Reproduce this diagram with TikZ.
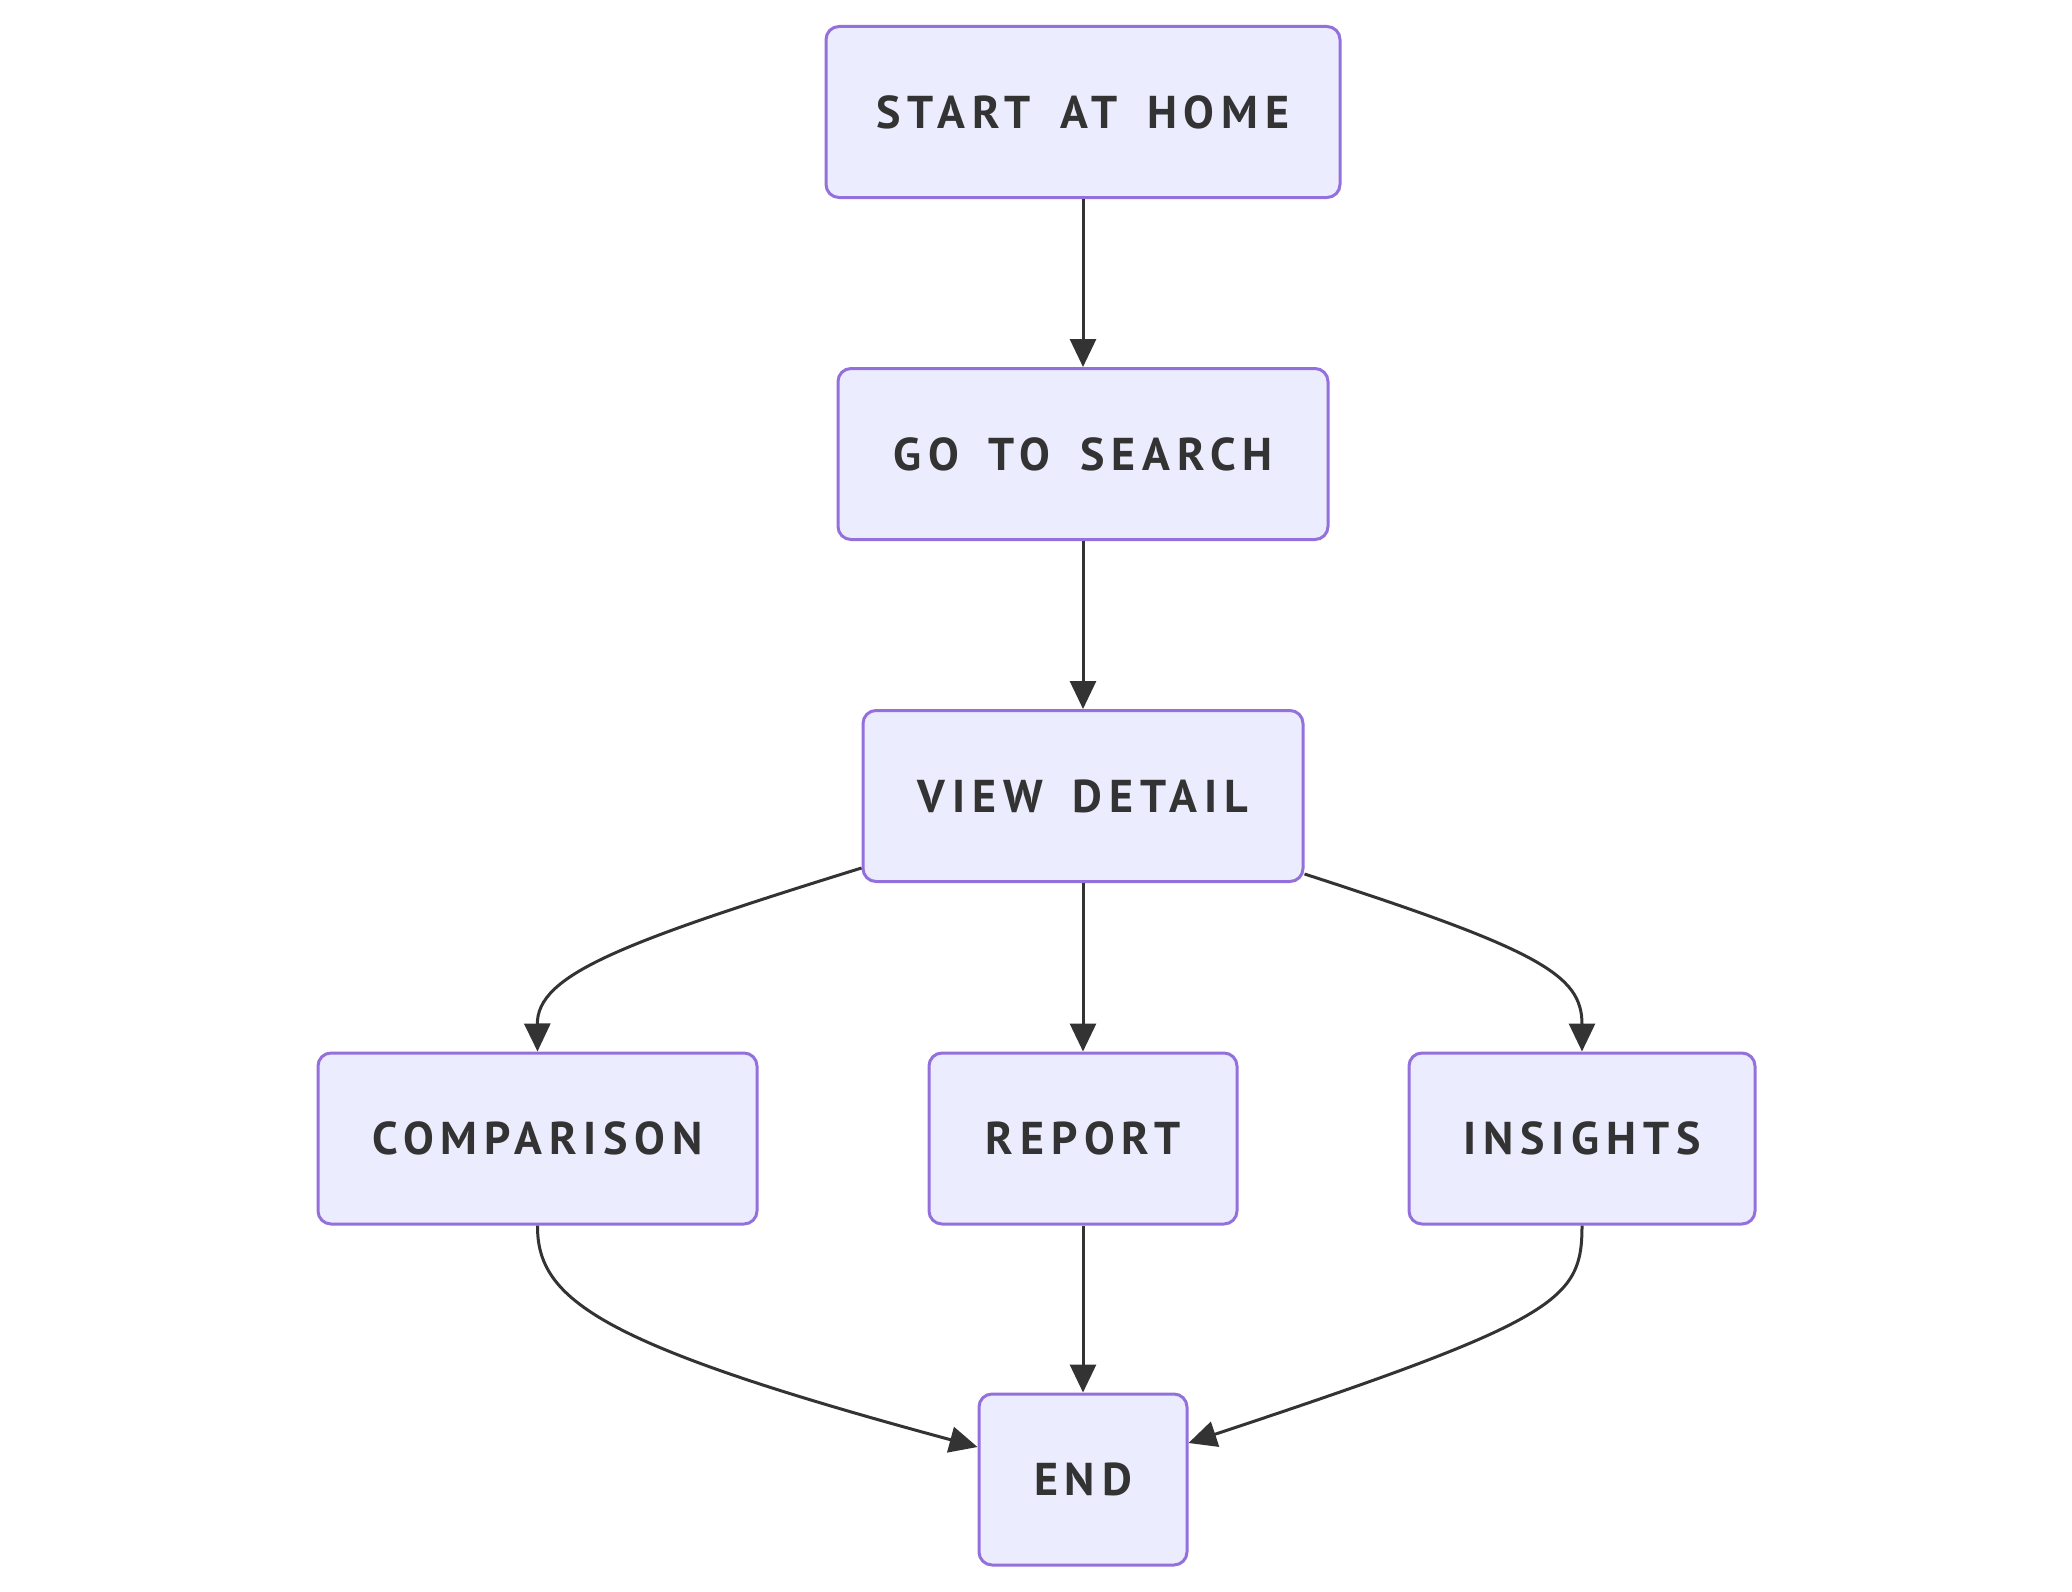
\documentclass[tikz,border=0pt]{standalone}
\usepackage{fontspec}
\setmainfont{PT Sans}[LetterSpace=15,WordSpace=1.6]
\usetikzlibrary{arrows.meta}
\definecolor{nodefill}{HTML}{ECECFF}
\definecolor{nodeline}{HTML}{9370DB}
\definecolor{ink}{HTML}{333333}
\begin{document}
\begin{tikzpicture}[x=1pt,y=-1pt,
  box/.style={draw=nodeline,fill=nodefill,line width=3pt,rounded corners=13pt,
    minimum height=171pt,inner sep=0pt,text=ink,
    font=\fontsize{46}{56}\selectfont\bfseries},
  flow/.style={draw=ink,line width=3pt,-{Triangle[length=28pt,width=26pt]}}]
\useasboundingbox (0,0) rectangle (2072,1592);
\node[box,minimum width=514pt] (home) at (1083,112) {START AT HOME};
\node[box,minimum width=490pt] (search) at (1083,454) {GO TO SEARCH};
\node[box,minimum width=440pt] (detail) at (1083,796) {VIEW DETAIL};
\node[box,minimum width=439pt] (comp) at (537.5,1138.5) {COMPARISON};
\node[box,minimum width=308pt] (report) at (1083,1138.5) {REPORT};
\node[box,minimum width=346pt] (ins) at (1582,1138.5) {INSIGHTS};
\node[box,minimum width=208pt] (end) at (1083,1479.5) {END};
\draw[flow] (home) -- (search);
\draw[flow] (search) -- (detail);
\draw[flow] (detail) -- (report);
\draw[flow] (report) -- (end);
\draw[flow] (detail.south west) ++(0,-15) .. controls (620,943) and (537,975) .. (comp.north);
\draw[flow] (detail.south east) ++(0,-9) .. controls (1540,950) and (1582,975) .. (ins.north);
\draw[flow] (comp.south) .. controls (537,1300) and (600,1345) .. (end.west |- 0,1447);
\draw[flow] (ins.south) .. controls (1582,1300) and (1560,1320) .. (end.east |- 0,1443);
\end{tikzpicture}
\end{document}
